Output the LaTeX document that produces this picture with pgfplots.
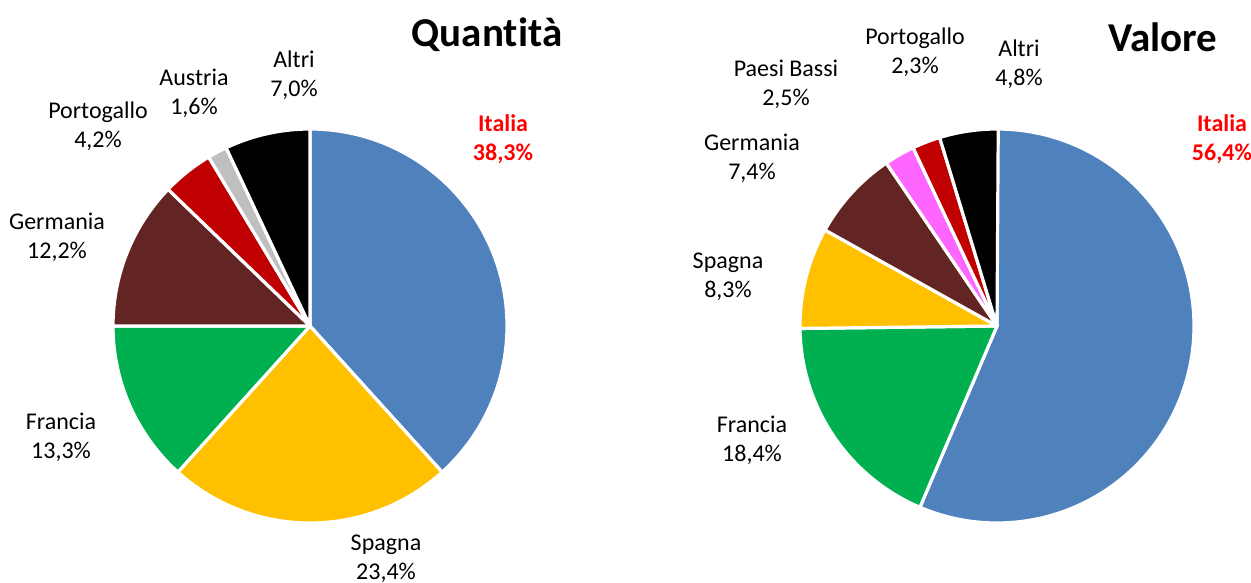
\documentclass[border=0pt]{standalone}
\usepackage{pgfplots}
\usepackage{pgfplotstable}
\pgfplotsset{compat=1.18}
\usepackage{fontspec}
\setmainfont{Carlito}[Ligatures={NoCommon}]
\definecolor{cBlue}{HTML}{4F81BD}
\definecolor{cYel}{HTML}{FFC000}
\definecolor{cGreen}{HTML}{00B050}
\definecolor{cBrown}{HTML}{632523}
\definecolor{cRed}{HTML}{C00000}
\definecolor{cGrey}{HTML}{BFBFBF}
\definecolor{cBlack}{HTML}{000000}
\definecolor{cPink}{HTML}{FF66FF}
\definecolor{cLab}{HTML}{FF0000}

% Quantità (clockwise from 12 o'clock)
\pgfplotstableread{
name v c
Italia 38.3 cBlue
Spagna 23.4 cYel
Francia 13.3 cGreen
Germania 12.2 cBrown
Portogallo 4.2 cRed
Austria 1.6 cGrey
Altri 7.0 cBlack
}\qtab
% Valore
\pgfplotstableread{
name v c
Italia 56.4 cBlue
Francia 18.4 cGreen
Spagna 8.3 cYel
Germania 7.4 cBrown
PaesiBassi 2.5 cPink
Portogallo 2.3 cRed
Altri 4.8 cBlack
}\vtab

\newcommand{\drawpie}[3]{%
  \pgfplotstablegetrowsof{#1}%
  \pgfmathtruncatemacro\lastrow{\pgfplotsretval-1}%
  \def\angstart{90}%
  \pgfplotsforeachungrouped \i in {0,...,\lastrow}{%
    \pgfplotstablegetelem{\i}{v}\of{#1}\let\val\pgfplotsretval
    \pgfplotstablegetelem{\i}{c}\of{#1}\let\col\pgfplotsretval
    \pgfmathsetmacro\angend{\angstart-3.6*\val}%
    \edef\temp{\noexpand\fill[fill=\col, draw=white, line width=3.2pt, line join=round] (axis cs:#2,#3) -- ++(\angstart:197pt) arc[start angle=\angstart, end angle=\angend, radius=197pt] -- cycle;}%
    \temp
    \let\angstart\angend
  }%
}
\tikzset{
  lab/.style={font=\fontsize{24}{29}\selectfont, align=center, inner sep=0pt, text=black},
  labit/.style={font=\fontsize{24}{29}\selectfont\bfseries, align=center, inner sep=0pt, text=cLab},
  ttl/.style={font=\fontsize{41}{48}\selectfont\bfseries, inner sep=0pt, text=black},
}

\begin{document}
\begin{tikzpicture}
\begin{axis}[
  x=1pt, y=1pt,
  xmin=0, xmax=1251, ymin=0, ymax=582,
  hide axis, clip=false,
]
\drawpie{\qtab}{310}{256}
\drawpie{\vtab}{997}{256}

% titles
\node[ttl] at (axis cs:487,547) {Quantità};
\node[ttl] at (axis cs:1163,545) {Valore};

% labels left
\node[labit] at (axis cs:503,443) {Italia\\38,3\%};
\node[lab] at (axis cs:386,23) {Spagna\\23,4\%};
\node[lab] at (axis cs:61,145) {Francia\\13,3\%};
\node[lab] at (axis cs:57,345) {Germania\\12,2\%};
\node[lab] at (axis cs:98,456) {Portogallo\\4,2\%};
\node[lab] at (axis cs:194,489) {Austria\\1,6\%};
\node[lab] at (axis cs:294,507) {Altri\\7,0\%};

% labels right
\node[labit] at (axis cs:1222,443) {Italia\\56,4\%};
\node[lab] at (axis cs:752,142) {Francia\\18,4\%};
\node[lab] at (axis cs:728,305) {Spagna\\8,3\%};
\node[lab] at (axis cs:752,424) {Germania\\7,4\%};
\node[lab] at (axis cs:786,498) {Paesi Bassi\\2,5\%};
\node[lab] at (axis cs:915,530) {Portogallo\\2,3\%};
\node[lab] at (axis cs:1019,518) {Altri\\4,8\%};
\end{axis}
\pgfresetboundingbox
\path (0,0) rectangle (1251pt,582pt);
\end{tikzpicture}
\end{document}
